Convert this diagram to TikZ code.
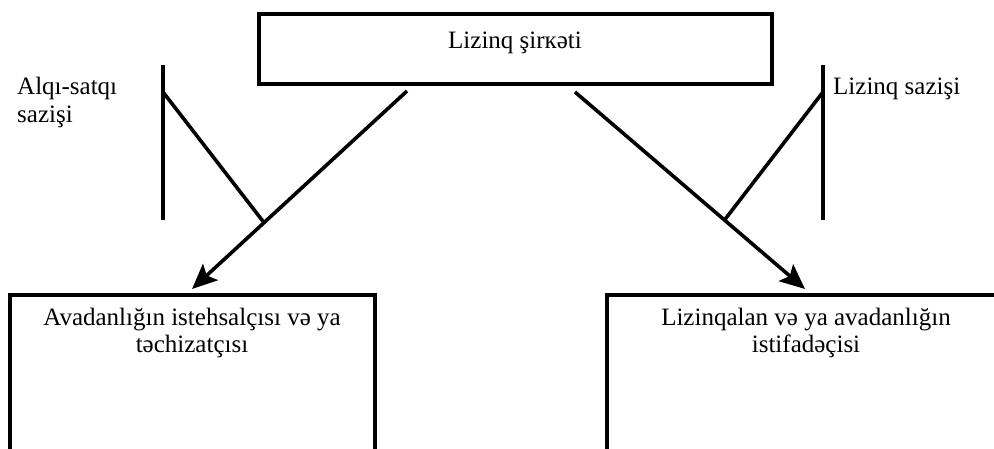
\documentclass[tikz,border=0pt]{standalone}
\usepackage{fontspec}
\setmainfont{Liberation Serif}
\usetikzlibrary{arrows.meta,calc}
\begin{document}
\begin{tikzpicture}[x=1pt,y=-1pt,
  box/.style={draw=black,line width=4pt,inner sep=0pt,fill=none},
  txt/.style={font=\fontsize{25}{27}\selectfont,inner sep=0pt,anchor=base,align=center},
  lbl/.style={font=\fontsize{25}{28}\selectfont,inner sep=0pt,anchor=base west,align=left},
  link/.style={line width=3.6pt},
  flow/.style={line width=3.6pt,-{Stealth[length=25pt,width=22pt,inset=5pt]}}]
  \useasboundingbox (0,0) rectangle (994,448);
  \clip (0,0) rectangle (994,448);
  % boxes
  \node[box,minimum width=513.5pt,minimum height=70.5pt] (company) at (515.25,48.75) {};
  \node[box,minimum width=365pt,minimum height=225pt] (supplier) at (192.5,407) {};
  \node[box,minimum width=398pt,minimum height=225pt] (lessee) at (806,407) {};
  % box texts (anchored at the baseline of their last line)
  \node[txt] (companytext) at (515,48) {Lizinq şirкəti};
  \node[txt] (suppliertext) at (192,352) {Avadanlığın istehsalçısı və ya\\təchizatçısı};
  \node[txt] (lesseetext) at (806,352) {Lizinqalan və ya avadanlığın\\istifadəçisi};
  % contract labels
  \node[lbl] (salelabel) at (17,122) {Alqı-satqı\\sazişi};
  \node[lbl] (leaselabel) at (833,94) {Lizinq sazişi};
  % flow arrows
  \coordinate (lstart) at (407,91);
  \coordinate (lend) at (192,289);
  \coordinate (rstart) at (575,92);
  \coordinate (rend) at (805,289);
  \draw[flow] (lstart) -- (lend);
  \draw[flow] (rstart) -- (rend);
  \coordinate (ljoin) at ($(lstart)!0.665!(lend)$);
  \coordinate (rjoin) at ($(rstart)!0.65!(rend)$);
  % contract bars
  \coordinate (ltop) at (163,65);
  \coordinate (lbot) at (163,220);
  \coordinate (lknee) at (163,92);
  \coordinate (rtop) at (823,65);
  \coordinate (rbot) at (823,220);
  \coordinate (rknee) at (823,92);
  \draw[link] (ltop) -- (lbot);
  \draw[link] (rtop) -- (rbot);
  \draw[link] (lknee) -- (ljoin);
  \draw[link] (rknee) -- (rjoin);
\end{tikzpicture}
\end{document}
